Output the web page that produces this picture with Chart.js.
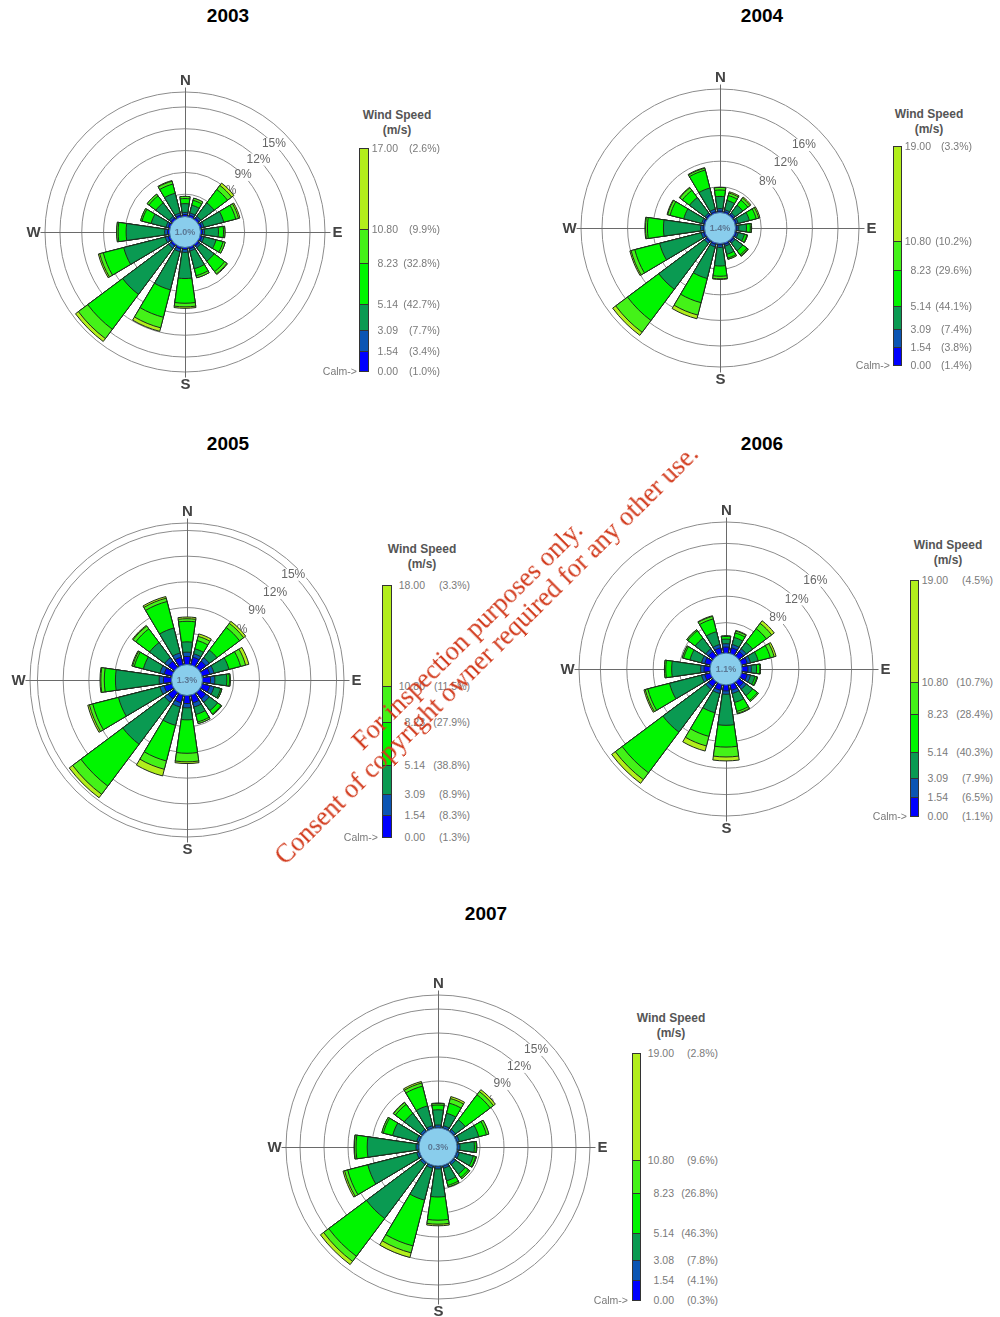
<!DOCTYPE html>
<html>
<head>
<meta charset="utf-8">
<script src="https://cdn.jsdelivr.net/npm/chart.js@4.4.0/dist/chart.umd.min.js"></script>
<style>
body { margin: 0; background: #fff; width: 1000px; height: 1317px; position: relative; overflow: hidden;
       font-family: "Liberation Sans", Arial, sans-serif; }
.title { position: absolute; font-weight: bold; font-size: 19px; color: #000; transform: translate(-50%, -50%); }
.rose { position: absolute; }
.lg-title { position: absolute; font-weight: bold; font-size: 12px; line-height: 15px; color: #555;
            text-align: center; transform: translateX(-50%); white-space: nowrap; }
.seg { position: absolute; box-sizing: border-box; border: 1px solid #333; }
.lbl { position: absolute; font-size: 10.5px; line-height: 12px; color: #7a7a7a; white-space: nowrap; }
.wm { position: absolute; left: 477px; top: 645px; transform: translate(-50%, -50%) rotate(-44.7deg);
      font-family: "Liberation Serif", "Times New Roman", serif; font-size: 26.5px; line-height: 27px;
      color: #d23a1c; text-align: center; white-space: nowrap; pointer-events: none; }
</style>
</head>
<body>

<script>
// directions, clockwise from north
const directions = ['N', 'NNE', 'NE', 'ENE', 'E', 'ESE', 'SE', 'SSE', 'S', 'SSW', 'SW', 'WSW', 'W', 'WNW', 'NW', 'NNW'];

// cumulative frequency (%) per direction, up to the top of each speed class
// a: <1.54  b: <3.09  c: <5.14  d: <8.23  e: <10.80  f: all speeds
const c2003_a = [0.2, 0.2, 0.2, 0.2, 0.2, 0.2, 0.2, 0.2, 0.2, 0.2, 0.2, 0.2, 0.2, 0.2, 0.2, 0.2];
const c2003_b = [0.5, 0.5, 0.5, 0.5, 0.5, 0.5, 0.5, 0.5, 0.6, 0.6, 0.6, 0.6, 0.6, 0.5, 0.5, 0.5];
const c2003_c = [1.7, 1.6, 2.8, 3.3, 2.4, 2.2, 2.8, 3.0, 4.2, 6.0, 8.5, 6.5, 5.9, 2.6, 2.8, 3.3];
const c2003_d = [2.4, 2.3, 5.1, 5.0, 3.1, 3.2, 4.6, 4.0, 7.6, 9.9, 14.5, 9.4, 7.0, 3.9, 4.0, 4.6];
const c2003_e = [2.7, 2.6, 5.8, 5.4, 3.3, 3.5, 5.0, 4.3, 8.1, 11.4, 16.1, 9.9, 7.2, 4.1, 4.3, 5.0];
const c2003_f = [2.7, 2.6, 6.2, 5.6, 3.3, 3.5, 5.1, 4.3, 8.3, 11.9, 16.6, 10.1, 7.2, 4.1, 4.3, 5.1];

const c2004_a = [0.2, 0.2, 0.2, 0.2, 0.2, 0.2, 0.2, 0.2, 0.2, 0.2, 0.2, 0.2, 0.2, 0.2, 0.2, 0.2];
const c2004_b = [0.6, 0.5, 0.5, 0.5, 0.5, 0.5, 0.5, 0.5, 0.6, 0.6, 0.6, 0.6, 0.6, 0.5, 0.5, 0.6];
const c2004_c = [2.5, 2.0, 2.0, 2.3, 1.7, 1.5, 2.0, 1.8, 3.5, 5.7, 9.5, 7.3, 6.4, 3.4, 3.5, 4.0];
const c2004_d = [3.5, 2.8, 3.0, 3.4, 2.3, 1.9, 2.8, 2.4, 5.1, 9.6, 15.6, 11.3, 8.9, 5.6, 4.9, 6.9];
const c2004_e = [3.9, 3.2, 3.4, 3.8, 2.5, 2.0, 3.0, 2.6, 5.5, 11.6, 17.9, 11.9, 9.2, 6.0, 5.4, 7.2];
const c2004_f = [3.9, 3.4, 3.6, 4.0, 2.5, 2.0, 3.1, 2.6, 5.6, 12.2, 18.5, 12.1, 9.3, 6.1, 5.5, 7.3];

const c2005_a = [0.3, 0.3, 0.3, 0.3, 0.3, 0.3, 0.3, 0.3, 0.3, 0.3, 0.3, 0.3, 0.3, 0.3, 0.3, 0.3];
const c2005_b = [0.8, 0.7, 0.8, 0.8, 0.8, 0.8, 0.8, 0.8, 0.8, 0.8, 0.8, 0.8, 0.8, 0.8, 0.8, 0.8];
const c2005_c = [2.0, 1.3, 1.9, 2.6, 2.2, 1.6, 2.0, 1.7, 2.2, 3.0, 6.9, 5.8, 5.9, 2.8, 3.0, 3.8];
const c2005_d = [4.4, 2.3, 5.2, 4.0, 2.5, 1.75, 2.5, 2.6, 6.1, 7.3, 13.0, 8.9, 7.2, 3.9, 5.0, 7.0];
const c2005_e = [4.7, 2.8, 5.8, 4.6, 2.6, 1.75, 2.6, 2.8, 7.1, 8.3, 14.2, 9.3, 7.6, 4.1, 5.4, 7.4];
const c2005_f = [4.9, 3.1, 6.1, 5.0, 2.6, 1.75, 2.6, 2.8, 7.3, 9.1, 14.7, 9.5, 7.7, 4.2, 5.5, 7.6];

const c2006_a = [0.3, 0.3, 0.3, 0.3, 0.3, 0.3, 0.3, 0.3, 0.3, 0.3, 0.3, 0.3, 0.3, 0.3, 0.3, 0.3];
const c2006_b = [0.8, 0.8, 0.8, 0.8, 0.8, 0.8, 0.8, 0.8, 0.8, 0.8, 0.8, 0.8, 0.8, 0.8, 0.8, 0.8];
const c2006_c = [1.5, 1.9, 2.0, 2.0, 1.6, 1.5, 2.0, 2.2, 5.5, 3.8, 8.9, 5.8, 5.2, 2.6, 2.8, 2.8];
const c2006_d = [1.9, 2.6, 4.6, 3.9, 2.1, 1.8, 2.9, 3.6, 8.8, 7.5, 16.6, 9.2, 6.1, 3.6, 4.2, 4.8];
const c2006_e = [2.0, 2.9, 5.6, 4.5, 2.2, 1.9, 3.1, 3.9, 10.3, 9.0, 17.9, 9.6, 6.3, 3.8, 4.4, 5.2];
const c2006_f = [2.0, 3.0, 6.1, 4.8, 2.2, 1.9, 3.1, 4.0, 10.9, 9.8, 18.6, 9.8, 6.3, 3.8, 4.4, 5.3];

const c2007_a = [0.2, 0.2, 0.2, 0.2, 0.2, 0.2, 0.2, 0.2, 0.2, 0.2, 0.2, 0.2, 0.2, 0.2, 0.2, 0.2];
const c2007_b = [0.5, 0.5, 0.5, 0.5, 0.5, 0.5, 0.5, 0.5, 0.5, 0.5, 0.5, 0.5, 0.5, 0.5, 0.5, 0.5];
const c2007_c = [2.4, 2.1, 2.0, 3.0, 2.3, 2.3, 2.0, 2.1, 4.0, 4.6, 8.9, 6.8, 6.6, 3.6, 3.0, 3.05];
const c2007_d = [3.0, 3.4, 5.9, 4.0, 2.55, 2.6, 2.5, 2.7, 6.9, 10.5, 14.8, 9.4, 8.0, 4.8, 4.4, 5.6];
const c2007_e = [3.2, 4.0, 6.4, 4.3, 2.6, 2.7, 2.7, 2.9, 7.4, 11.4, 15.6, 9.8, 8.2, 5.0, 4.7, 6.0];
const c2007_f = [3.25, 4.25, 6.7, 4.3, 2.6, 2.7, 2.7, 2.9, 7.6, 12.0, 16.1, 10.0, 8.25, 5.0, 4.75, 6.2];

// percent rings (tick labels)
const ring2003 = [3, 6, 9, 12, 15];
const ring2004 = [4, 8, 12, 16];
const ring2005 = [3, 6, 9, 12, 15];
const ring2006 = [4, 8, 12, 16];
const ring2007 = [3, 6, 9, 12, 15];

// legend: class limits (m/s) and share of time (%), calm first
const leg2003Speed = [0, 1.54, 3.09, 5.14, 8.23, 10.80, 17.00];
const leg2003Pct = [1.0, 3.4, 7.7, 42.7, 32.8, 9.9, 2.6];
const leg2004Speed = [0, 1.54, 3.09, 5.14, 8.23, 10.80, 19.00];
const leg2004Pct = [1.4, 3.8, 7.4, 44.1, 29.6, 10.2, 3.3];
const leg2005Speed = [0, 1.54, 3.09, 5.14, 8.23, 10.80, 18.00];
const leg2005Pct = [1.3, 8.3, 8.9, 38.8, 27.9, 11.5, 3.3];
const leg2006Speed = [0, 1.54, 3.09, 5.14, 8.23, 10.80, 19.00];
const leg2006Pct = [1.1, 6.5, 7.9, 40.3, 28.4, 10.7, 4.5];
const leg2007Speed = [0, 1.54, 3.08, 5.14, 8.23, 10.80, 19.00];
const leg2007Pct = [0.3, 4.1, 7.8, 46.3, 26.8, 9.6, 2.8];

const binColors = ['#0000ff', '#0b55b3', '#0a9a52', '#00f500', '#44f218', '#b2ee1c'];
const BAR_DEG = 16.5;
const GAP_DEG = 22.5 - BAR_DEG;

// layout of each rose (px) and its legend
const roses = [
    { year: '2003', tx: 228, ty: 16, cx: 185, cy: 232, R: 140, k: 7.27, r0: 16, calmR: 15.5,
      cums: [c2003_a, c2003_b, c2003_c, c2003_d, c2003_e, c2003_f], rings: ring2003,
      speeds: leg2003Speed, pcts: leg2003Pct,
      lg: { titleX: 397, titleY: 108, barX: 359, barW: 10, top: 148, bottom: 371, speedRight: 398, pctRight: 440, calmRight: 357 } },
    { year: '2004', tx: 762, ty: 16, cx: 720, cy: 228, R: 139, k: 6.4, r0: 15.6, calmR: 15.5,
      cums: [c2004_a, c2004_b, c2004_c, c2004_d, c2004_e, c2004_f], rings: ring2004,
      speeds: leg2004Speed, pcts: leg2004Pct,
      lg: { titleX: 929, titleY: 107, barX: 893, barW: 9, top: 146, bottom: 365, speedRight: 931, pctRight: 972, calmRight: 890 } },
    { year: '2005', tx: 228, ty: 444, cx: 187, cy: 680, R: 157, k: 8.57, r0: 21, calmR: 15.5,
      cums: [c2005_a, c2005_b, c2005_c, c2005_d, c2005_e, c2005_f], rings: ring2005,
      speeds: leg2005Speed, pcts: leg2005Pct,
      lg: { titleX: 422, titleY: 542, barX: 382, barW: 10, top: 585, bottom: 837, speedRight: 425, pctRight: 470, calmRight: 378 } },
    { year: '2006', tx: 762, ty: 444, cx: 726, cy: 669, R: 147, k: 6.6, r0: 20, calmR: 16,
      cums: [c2006_a, c2006_b, c2006_c, c2006_d, c2006_e, c2006_f], rings: ring2006,
      speeds: leg2006Speed, pcts: leg2006Pct,
      lg: { titleX: 948, titleY: 538, barX: 910, barW: 9, top: 580, bottom: 816, speedRight: 948, pctRight: 993, calmRight: 907 } },
    { year: '2007', tx: 486, ty: 914, cx: 438, cy: 1147, R: 152, k: 8, r0: 18, calmR: 19,
      cums: [c2007_a, c2007_b, c2007_c, c2007_d, c2007_e, c2007_f], rings: ring2007,
      speeds: leg2007Speed, pcts: leg2007Pct,
      lg: { titleX: 671, titleY: 1011, barX: 632, barW: 9, top: 1053, bottom: 1300, speedRight: 674, pctRight: 718, calmRight: 628 } }
];

// bars sit at even indexes, the odd ones are empty gaps between bars
function interleave(vals) {
    var out = [];
    vals.forEach(function (v) { out.push(v, null); });
    return out;
}

var roseDecor = {
    id: 'roseDecor',
    beforeDatasetsDraw: function (chart, args, opts) {
        var s = chart.scales.r, ctx = chart.ctx;
        var cx = s.xCenter + 0.5, cy = s.yCenter + 0.5, R = s.drawingArea;
        ctx.save();
        // compass cross
        ctx.strokeStyle = '#6a6a6a';
        ctx.lineWidth = 1;
        ctx.beginPath();
        ctx.moveTo(cx, cy - R - 5); ctx.lineTo(cx, cy + R + 5);
        ctx.moveTo(cx - R - 5, cy); ctx.lineTo(cx + R + 5, cy);
        ctx.stroke();
        // ring labels along the NE diagonal
        ctx.font = '12px "Liberation Sans", Arial';
        ctx.textAlign = 'center';
        ctx.textBaseline = 'middle';
        opts.rings.slice(1).forEach(function (v) {
            var d = s.getDistanceFromCenterForValue(v);
            var x = cx + d * Math.SQRT1_2, y = cy - d * Math.SQRT1_2;
            var t = v + '%';
            var w = ctx.measureText(t).width;
            ctx.fillStyle = '#fff';
            ctx.fillRect(x - w / 2 - 1, y - 6, w + 2, 12);
            ctx.fillStyle = '#666';
            ctx.fillText(t, x, y);
        });
        // compass letters
        ctx.font = 'bold 15px "Liberation Sans", Arial';
        ctx.fillStyle = '#444';
        var off = R + 12;
        ctx.fillText('N', cx, cy - off);
        ctx.fillText('S', cx, cy + off);
        ctx.fillText('E', cx + off, cy);
        ctx.fillText('W', cx - off, cy);
        ctx.restore();
    },
    afterDatasetsDraw: function (chart, args, opts) {
        var s = chart.scales.r, ctx = chart.ctx;
        var cx = s.xCenter, cy = s.yCenter;
        ctx.save();
        ctx.beginPath();
        ctx.arc(cx, cy, opts.calmR, 0, Math.PI * 2);
        ctx.fillStyle = '#89cdec';
        ctx.fill();
        ctx.strokeStyle = '#3b6ea0';
        ctx.lineWidth = 1;
        ctx.stroke();
        ctx.font = 'bold 9px "Liberation Sans", Arial';
        ctx.fillStyle = '#5b7894';
        ctx.textAlign = 'center';
        ctx.textBaseline = 'middle';
        ctx.fillText(opts.calm.toFixed(1) + '%', cx, cy + 0.5);
        ctx.restore();
    }
};

function addDiv(cls, css, html) {
    var d = document.createElement('div');
    d.className = cls;
    Object.assign(d.style, css);
    d.innerHTML = html;
    document.body.appendChild(d);
    return d;
}

function buildLegend(L, speeds, pcts) {
    var pxPer = (L.bottom - L.top) / speeds[speeds.length - 1];
    addDiv('lg-title', { left: L.titleX + 'px', top: L.titleY + 'px' }, 'Wind Speed<br>(m/s)');
    for (var i = 0; i < speeds.length - 1; i++) {
        var y1 = L.bottom - speeds[i + 1] * pxPer;
        var y0 = L.bottom - speeds[i] * pxPer;
        addDiv('seg', { left: L.barX + 'px', width: L.barW + 'px', top: Math.round(y1) + 'px',
                        height: (Math.round(y0) - Math.round(y1) + 1) + 'px', background: binColors[i] }, '');
    }
    speeds.forEach(function (sp, i) {
        var y = Math.round(L.bottom - sp * pxPer) - 6;
        addDiv('lbl', { right: (1000 - L.speedRight) + 'px', top: y + 'px' }, sp.toFixed(2));
        addDiv('lbl', { right: (1000 - L.pctRight) + 'px', top: y + 'px' }, '(' + pcts[i].toFixed(1) + '%)');
    });
    addDiv('lbl', { right: (1000 - L.calmRight) + 'px', top: (L.bottom - 6) + 'px' }, 'Calm-&gt;');
}

roses.forEach(function (rs) {
    addDiv('title', { left: rs.tx + 'px', top: rs.ty + 'px' }, rs.year);

    var pad = 24;
    var size = 2 * (rs.R + pad);
    var canvas = document.createElement('canvas');
    canvas.className = 'rose';
    canvas.width = size;
    canvas.height = size;
    canvas.style.left = (rs.cx - size / 2) + 'px';
    canvas.style.top = (rs.cy - size / 2) + 'px';
    document.body.appendChild(canvas);

    var labels = [];
    directions.forEach(function (d) { labels.push(d, ''); });

    // innermost class first: dataset 0 is drawn last, on top
    var datasets = rs.cums.map(function (vals, i) {
        return {
            label: i,
            data: interleave(vals),
            backgroundColor: function (c) { return c.index % 2 ? 'rgba(0,0,0,0)' : binColors[i]; },
            borderColor: '#1d2a1d',
            borderWidth: function (c) { return c.index % 2 ? 0 : 1; },
            angle: function (c) { return c.index % 2 ? GAP_DEG : BAR_DEG; }
        };
    });

    var rMin = -rs.r0 / rs.k;
    var rMax = (rs.R - rs.r0) / rs.k;
    var rings = rs.rings;

    new Chart(canvas.getContext('2d'), {
        type: 'polarArea',
        data: { labels: labels, datasets: datasets },
        options: {
            responsive: false,
            animation: false,
            layout: { padding: pad },
            plugins: {
                legend: { display: false },
                tooltip: { enabled: false },
                roseDecor: { rings: rings, calm: rs.pcts[0], calmR: rs.calmR }
            },
            scales: {
                r: {
                    min: rMin,
                    max: rMax,
                    startAngle: -BAR_DEG / 2,
                    ticks: { display: false },
                    grid: { color: '#8c8c8c', lineWidth: 1 },
                    angleLines: { display: false },
                    pointLabels: { display: false },
                    afterBuildTicks: function (scale) {
                        scale.ticks = [rMin].concat(rings, [rMax]).map(function (v) { return { value: v }; });
                    }
                }
            }
        },
        plugins: [roseDecor]
    });

    buildLegend(rs.lg, rs.speeds, rs.pcts);
});
</script>
<div class="wm">For inspection purposes only.<br>Consent of copyright owner required for any other use.</div>
</body>
</html>
